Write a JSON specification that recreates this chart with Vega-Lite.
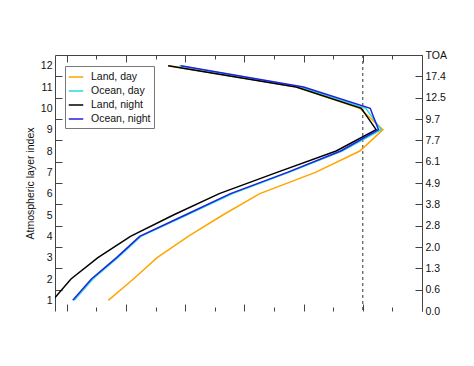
{
  "$schema": "https://vega.github.io/schema/vega-lite/v6.json",
  "width": 367,
  "height": 256,
  "autosize": "none",
  "padding": {"left": 55, "top": 55, "right": 52, "bottom": 55},
  "background": "white",
  "config": {
    "view": {"stroke": null},
    "font": "Liberation Sans",
    "axis": {"domainColor": "#444", "tickColor": "#444", "labelColor": "#111", "titleColor": "#111", "labelFont": "Liberation Sans", "titleFont": "Liberation Sans", "labelFontSize": 10.5, "titleFontSize": 10.5, "titleFontWeight": "normal", "grid": false, "labelOverlap": false, "labelFlush": false}
  },
  "datasets": {
    "profiles": [
      {"series": "Land, day", "layer": 1, "ak": 0.14},
      {"series": "Land, day", "layer": 2, "ak": 0.225},
      {"series": "Land, day", "layer": 3, "ak": 0.305},
      {"series": "Land, day", "layer": 4, "ak": 0.41},
      {"series": "Land, day", "layer": 5, "ak": 0.527},
      {"series": "Land, day", "layer": 6, "ak": 0.652},
      {"series": "Land, day", "layer": 7, "ak": 0.84},
      {"series": "Land, day", "layer": 8, "ak": 0.99},
      {"series": "Land, day", "layer": 9, "ak": 1.068},
      {"series": "Land, day", "layer": 10, "ak": 0.99},
      {"series": "Land, day", "layer": 11, "ak": 0.775},
      {"series": "Land, day", "layer": 12, "ak": 0.345},
      {"series": "Ocean, day", "layer": 1, "ak": 0.025},
      {"series": "Ocean, day", "layer": 2, "ak": 0.088},
      {"series": "Ocean, day", "layer": 3, "ak": 0.172},
      {"series": "Ocean, day", "layer": 4, "ak": 0.25},
      {"series": "Ocean, day", "layer": 5, "ak": 0.405},
      {"series": "Ocean, day", "layer": 6, "ak": 0.56},
      {"series": "Ocean, day", "layer": 7, "ak": 0.75},
      {"series": "Ocean, day", "layer": 8, "ak": 0.93},
      {"series": "Ocean, day", "layer": 9, "ak": 1.062},
      {"series": "Ocean, day", "layer": 10, "ak": 1.01},
      {"series": "Ocean, day", "layer": 11, "ak": 0.79},
      {"series": "Ocean, day", "layer": 12, "ak": 0.38},
      {"series": "Land, night", "layer": 1, "ak": -0.048},
      {"series": "Land, night", "layer": 2, "ak": 0.014},
      {"series": "Land, night", "layer": 3, "ak": 0.105},
      {"series": "Land, night", "layer": 4, "ak": 0.215},
      {"series": "Land, night", "layer": 5, "ak": 0.36},
      {"series": "Land, night", "layer": 6, "ak": 0.515},
      {"series": "Land, night", "layer": 7, "ak": 0.71},
      {"series": "Land, night", "layer": 8, "ak": 0.91},
      {"series": "Land, night", "layer": 9, "ak": 1.045},
      {"series": "Land, night", "layer": 10, "ak": 0.995},
      {"series": "Land, night", "layer": 11, "ak": 0.775},
      {"series": "Land, night", "layer": 12, "ak": 0.342},
      {"series": "Ocean, night", "layer": 1, "ak": 0.02},
      {"series": "Ocean, night", "layer": 2, "ak": 0.083},
      {"series": "Ocean, night", "layer": 3, "ak": 0.168},
      {"series": "Ocean, night", "layer": 4, "ak": 0.246},
      {"series": "Ocean, night", "layer": 5, "ak": 0.4},
      {"series": "Ocean, night", "layer": 6, "ak": 0.553},
      {"series": "Ocean, night", "layer": 7, "ak": 0.745},
      {"series": "Ocean, night", "layer": 8, "ak": 0.925},
      {"series": "Ocean, night", "layer": 9, "ak": 1.053},
      {"series": "Ocean, night", "layer": 10, "ak": 1.025},
      {"series": "Ocean, night", "layer": 11, "ak": 0.8},
      {"series": "Ocean, night", "layer": 12, "ak": 0.385}
    ],
    "ref": [{"v": 1}]
  },
  "layer": [
    {
      "layer": [
        {
          "data": {"name": "ref"},
          "mark": {"type": "rule", "strokeDash": [3, 3], "color": "#333", "strokeWidth": 1},
          "encoding": {
            "x": {"field": "v", "type": "quantitative", "axis": null}
          }
        },
        {
          "data": {"name": "profiles"},
          "mark": {"type": "line", "clip": true, "strokeWidth": 1.5},
          "encoding": {
            "x": {
              "field": "ak", "type": "quantitative",
              "scale": {"domain": [-0.04, 1.2], "nice": false, "zero": false},
              "axis": {
                "orient": "bottom", "title": "Column AK", "titlePadding": 2,
                "values": [0, 0.2, 0.4, 0.6, 0.8, 1, 1.2],
                "labelExpr": "'' + round(datum.value*10)/10",
                "ticks": false, "labelPadding": 3
              }
            },
            "y": {
              "field": "layer", "type": "quantitative",
              "scale": {"domain": [0.5, 12.5], "nice": false, "zero": false},
              "axis": {
                "orient": "left", "title": "Atmospheric layer index", "titlePadding": 5,
                "values": [1, 2, 3, 4, 5, 6, 7, 8, 9, 10, 11, 12],
                "ticks": false, "labelPadding": 3
              }
            },
            "color": {
              "field": "series", "type": "nominal",
              "scale": {"domain": ["Land, day", "Ocean, day", "Land, night", "Ocean, night"], "range": ["#FFA500", "#22DDDD", "#000000", "#2222DD"]},
              "legend": {
                "title": null, "orient": "none", "legendX": 10, "legendY": 11,
                "symbolType": "stroke", "symbolStrokeWidth": 1.5, "symbolSize": 210,
                "labelFont": "Liberation Sans", "labelFontSize": 10.5, "labelColor": "#111", "labelOffset": 7,
                "strokeColor": "#777", "padding": 3, "rowPadding": 0, "fillColor": "white"
              }
            },
            "order": {"field": "layer", "type": "quantitative"}
          }
        }
      ]
    },
    {
      "data": {"name": "profiles"},
      "mark": {"type": "point", "opacity": 0},
      "encoding": {
        "x": {
          "field": "ak", "type": "quantitative",
          "scale": {"domain": [-0.04, 1.2], "nice": false, "zero": false},
          "axis": {
            "orient": "top", "offset": -256, "title": null, "labels": false, "domain": false,
            "values": [0, 0.1, 0.2, 0.3, 0.4, 0.5, 0.6, 0.7, 0.8, 0.9, 1, 1.1, 1.2],
            "tickSize": {"condition": {"test": "round(datum.value*10)%2==0", "value": 7}, "value": 4}
          }
        },
        "y": {
          "field": "layer", "type": "quantitative",
          "scale": {"domain": [0.5, 12.5], "nice": false, "zero": false},
          "axis": {
            "orient": "right", "offset": -367, "title": null, "labels": false, "domain": false,
            "values": [1.5, 2.5, 3.5, 4.5, 5.5, 6.5, 7.5, 8.5, 9.5, 10.5, 11.5],
            "tickSize": 7
          }
        }
      }
    },
    {
      "data": {"name": "profiles"},
      "mark": {"type": "point", "opacity": 0},
      "encoding": {
        "x": {
          "field": "ak", "type": "quantitative",
          "scale": {"domain": [-0.04, 1.2], "nice": false, "zero": false},
          "axis": {
            "orient": "bottom", "offset": -256, "title": null, "labels": false, "domain": false,
            "values": [0, 0.1, 0.2, 0.3, 0.4, 0.5, 0.6, 0.7, 0.8, 0.9, 1, 1.1, 1.2],
            "tickSize": {"condition": {"test": "round(datum.value*10)%2==0", "value": 7}, "value": 4}
          }
        },
        "y": {
          "field": "layer", "type": "quantitative",
          "scale": {"domain": [0.5, 12.5], "nice": false, "zero": false},
          "axis": {
            "orient": "left", "offset": -367, "title": null, "labels": false, "domain": false,
            "values": [1.5, 2.5, 3.5, 4.5, 5.5, 6.5, 7.5, 8.5, 9.5, 10.5, 11.5],
            "tickSize": 7
          }
        }
      }
    },
    {
      "data": {"name": "profiles"},
      "mark": {"type": "point", "opacity": 0},
      "encoding": {
        "x": {
          "field": "ak", "type": "quantitative",
          "scale": {"domain": [-0.04, 1.2], "nice": false, "zero": false},
          "axis": {
            "orient": "top", "title": null, "labels": false, "ticks": false
          }
        },
        "y": {
          "field": "layer", "type": "quantitative",
          "scale": {"domain": [0.5, 12.5], "nice": false, "zero": false},
          "axis": {
            "orient": "right", "title": null, "ticks": false,
            "values": [0.5, 1.5, 2.5, 3.5, 4.5, 5.5, 6.5, 7.5, 8.5, 9.5, 10.5, 11.5, 12.5],
            "labelExpr": "['0.0','0.6','1.3','2.0','2.8','3.8','4.9','6.1','7.7','9.7','12.5','17.4','TOA'][round(datum.value-0.5)]",
            "labelPadding": 3
          }
        }
      }
    }
  ],
  "resolve": {"scale": {"x": "independent", "y": "independent"}}
}
